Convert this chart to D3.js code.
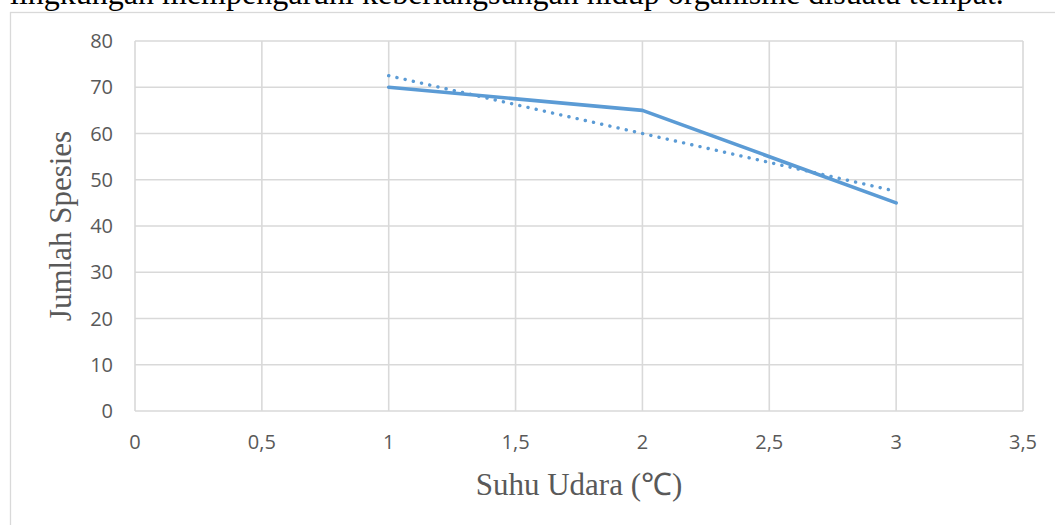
<!DOCTYPE html>
<html><head><meta charset="utf-8">
<script src="https://cdn.jsdelivr.net/npm/d3@7"></script>
<style>body{margin:0;background:#fff;overflow:hidden}</style>
</head><body>
<svg id="c" width="1055" height="525"></svg>
<script>
const xValues = [1, 2, 3];
const seriesValues = [70, 65, 45];
const trendX = [1, 3];
const trendY = [72.5, 47.5];
const xTicks = [0, 0.5, 1, 1.5, 2, 2.5, 3, 3.5];
const xTickLabels = ["0", "0,5", "1", "1,5", "2", "2,5", "3", "3,5"];
const yTicks = [0, 10, 20, 30, 40, 50, 60, 70, 80];
const yTickLabels = ["0", "10", "20", "30", "40", "50", "60", "70", "80"];
const topText = "lingkungan mempengaruhi keberlangsungan hidup organisme disuatu tempat.";
const xTitle = "Suhu Udara (℃)";
const yTitle = "Jumlah Spesies";

const svg = d3.select("#c");
const x = d3.scaleLinear().domain([0, 3.5]).range([135, 1023]);
const y = d3.scaleLinear().domain([0, 80]).range([411, 41]);
const blue = "#5b9bd5", grid = "#d9d9d9", tick = "#595959";
const serif = "'Liberation Serif', 'Times New Roman', serif";

// top cropped paragraph text
svg.append("text").attr("x", 10).attr("y", 4)
  .attr("font-family", serif)
  .attr("font-size", 32).attr("fill", "#000").text(topText);

// chart outer border
svg.append("rect").attr("x", 10.5).attr("y", 12.5).attr("width", 1100).attr("height", 600)
  .attr("fill", "none").attr("stroke", grid).attr("stroke-width", 1.3);

// gridlines
svg.append("g").selectAll("line").data(yTicks).join("line")
  .attr("x1", x(0)).attr("x2", x(3.5)).attr("y1", d => y(d)).attr("y2", d => y(d))
  .attr("stroke", grid).attr("stroke-width", 1.6);
svg.append("g").selectAll("line").data(xTicks).join("line")
  .attr("x1", d => x(d)).attr("x2", d => x(d)).attr("y1", y(0)).attr("y2", y(80))
  .attr("stroke", grid).attr("stroke-width", 1.6);

// tick labels
const tickFont = "'Open Sans', 'Noto Sans', sans-serif";
svg.append("g").selectAll("text").data(yTicks).join("text")
  .attr("x", 113).attr("y", d => y(d)).attr("dy", "0.36em")
  .attr("text-anchor", "end").attr("font-family", tickFont).attr("font-size", 20)
  .attr("fill", tick).text((d, i) => yTickLabels[i]);
svg.append("g").selectAll("text").data(xTicks).join("text")
  .attr("x", d => x(d)).attr("y", 449)
  .attr("text-anchor", "middle").attr("font-family", tickFont).attr("font-size", 20)
  .attr("fill", tick).text((d, i) => xTickLabels[i]);

// axis titles
svg.append("text").attr("x", 579).attr("y", 495).attr("text-anchor", "middle")
  .attr("font-family", serif)
  .attr("font-size", 31).attr("fill", "#595959").text(xTitle);
svg.append("text").attr("transform", "translate(71,226) rotate(-90)").attr("text-anchor", "middle")
  .attr("font-family", serif)
  .attr("font-size", 31).attr("fill", "#595959").text(yTitle);

// series line
const line = d3.line().x(d => x(d[0])).y(d => y(d[1]));
svg.append("path").datum(xValues.map((v, i) => [v, seriesValues[i]]))
  .attr("d", line).attr("fill", "none").attr("stroke", blue)
  .attr("stroke-width", 3.6).attr("stroke-linejoin", "round").attr("stroke-linecap", "round");

// trendline (dotted)
svg.append("path").datum(trendX.map((v, i) => [v, trendY[i]]))
  .attr("d", line).attr("fill", "none").attr("stroke", blue)
  .attr("stroke-width", 3.4).attr("stroke-linecap", "round").attr("stroke-dasharray", "0.1 8.3");
</script>
</body></html>
